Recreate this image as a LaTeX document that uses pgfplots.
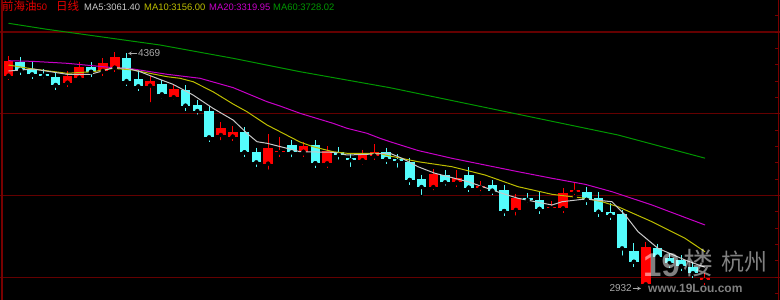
\documentclass[border=0pt]{standalone}
\usepackage{pgfplots}
\usepackage{pgfplotstable}
\pgfplotsset{compat=1.18}
\usepackage{fontspec}
\setmainfont{Liberation Sans}
\newfontfamily\cjk{Noto Sans CJK SC}
\definecolor{upred}{RGB}{255,0,0}
\definecolor{dncyan}{RGB}{84,252,252}
\definecolor{gridred}{RGB}{100,0,0}
\definecolor{edgered}{RGB}{120,0,0}
\definecolor{ma5c}{RGB}{200,200,200}
\definecolor{ma10c}{RGB}{190,190,0}
\definecolor{ma20c}{RGB}{200,0,200}
\definecolor{ma60c}{RGB}{0,150,0}
\definecolor{hdrred}{RGB}{230,0,0}
\definecolor{anngray}{RGB}{170,170,170}
% up (red) candles: index open high low close
\pgfplotstableread{
i O H L C
0 4233 4341 4225 4325
5 4190 4241 4188 4231
6 4221 4303 4207 4286
8 4262 4331 4257 4309
9 4282 4364 4280 4347
12 4172 4207 4058 4202
14 4101 4159 4074 4150
18 3870 3948 3826 3915
19 3860 3927 3860 3887
22 3695 3874 3646 3793
23 3764 3858 3764 3772
25 3768 3817 3758 3801
27 3697 3789 3690 3772
30 3716 3756 3703 3752
31 3744 3813 3740 3764
36 3552 3642 3520 3630
38 3581 3656 3575 3609
40 3548 3585 3514 3560
43 3412 3499 3365 3483
46 3422 3467 3405 3432
47 3422 3520 3418 3514
48 3522 3581 3491 3532
54 2957 3202 2932 3187
59 2982 3000 2978 2998
}\uptable
% down (cyan) candles: index open high low close
\pgfplotstableread{
i O H L C
1 4318 4335 4265 4268
2 4272 4315 4237 4241
3 4245 4255 4205 4233
4 4227 4241 4173 4176
7 4286 4315 4254 4257
10 4343 4369 4192 4200
11 4211 4268 4164 4168
13 4180 4207 4104 4119
15 4145 4156 4049 4049
16 4054 4070 3982 4017
17 4017 4023 3850 3856
20 3887 3921 3764 3764
21 3764 3768 3662 3703
24 3809 3809 3723 3764
26 3809 3826 3697 3697
28 3768 3772 3707 3748
29 3731 3752 3662 3716
32 3764 3770 3718 3723
33 3723 3731 3658 3711
34 3703 3711 3595 3595
35 3599 3609 3491 3552
37 3626 3642 3548 3581
39 3626 3673 3548 3548
41 3564 3585 3525 3530
42 3534 3544 3405 3405
44 3487 3492 3446 3473
45 3473 3520 3418 3418
49 3523 3548 3473 3473
50 3487 3523 3400 3401
51 3398 3453 3379 3379
52 3385 3390 3120 3177
53 3161 3208 3094 3095
55 3177 3180 3110 3126
56 3116 3147 3080 3086
57 3106 3136 3065 3069
58 3065 3086 3020 3025
}\dntable
\begin{document}
\begin{tikzpicture}
\begin{axis}[
  scale only axis, width=780pt, height=300pt,
  xmin=-0.72, xmax=65.38, ymin=2861.2, ymax=4695.7,
  axis background/.style={fill=black},
  axis line style={draw=none},
  xtick=\empty, ytick={3000,3500,4000,4500},
  yticklabels={}, major tick length=0pt,
  ymajorgrids, grid style={gridred, line width=1.1pt},
]
% wicks
\addplot[only marks, mark=none, error bars/.cd, y dir=plus, y explicit, error mark=none,
  error bar style={upred, line width=1pt}]
  table[x=i, y=L, y error plus expr=\thisrow{H}-\thisrow{L}] {\uptable};
\addplot[only marks, mark=none, error bars/.cd, y dir=plus, y explicit, error mark=none,
  error bar style={dncyan, line width=1pt}]
  table[x=i, y=L, y error plus expr=\thisrow{H}-\thisrow{L}] {\dntable};
% bodies
\addplot[only marks, mark=none, error bars/.cd, y dir=both, y explicit, error mark=-,
  error bar style={upred, line width=9.6pt}, error mark options={upred, line width=1pt, mark size=4.8pt}]
  table[x=i, y=O, y error plus expr=\thisrow{C}-\thisrow{O}, y error minus expr=0] {\uptable};
\addplot[only marks, mark=none, error bars/.cd, y dir=both, y explicit, error mark=-,
  error bar style={dncyan, line width=9.6pt}, error mark options={dncyan, line width=1pt, mark size=4.8pt}]
  table[x=i, y=C, y error plus expr=\thisrow{O}-\thisrow{C}, y error minus expr=0] {\dntable};
% MA60
\addplot[ma60c, line width=1pt, no marks] coordinates {(0,4553.2)(3.26,4516.5)(12.84,4420.5)(19.03,4339.2)(24.70,4257.3)(32.33,4159.4)(41.65,4020.0)(51.65,3870.2)(59.03,3728.3)};
% MA20
\addplot[ma20c, line width=1pt, no marks] coordinates {(0,4324.5)(2.08,4320.4)(4.96,4308.6)(8.86,4282.0)(10.55,4273.8)(13.43,4241.4)(16.23,4216.9)(19.03,4160.0)(21.91,4073.8)(23.01,4047.5)(24.70,4002.9)(27.50,3941.7)(28.69,3911.2)(30.38,3880.6)(31.48,3850.0)(32.33,3829.2)(34.70,3775.4)(37.58,3727.7)(40.38,3686.7)(43.18,3645.8)(46.06,3605.4)(48.86,3568.7)(51.14,3523.4)(54.53,3442.1)(59.03,3319.8)};
% MA10
\addplot[ma10c, line width=1pt, no marks] coordinates {(0,4298.2)(2.08,4273.8)(4.96,4247.5)(7.16,4257.3)(8.86,4278.0)(10.55,4267.6)(13.43,4226.7)(14.53,4216.9)(15.64,4196.1)(17.33,4134.9)(19.03,4059.7)(20.21,4012.6)(21.91,3931.3)(23.01,3890.3)(24.70,3827.4)(25.81,3798.6)(27.50,3768.1)(28.69,3758.3)(31.48,3758.3)(31.91,3747.9)(34.70,3706.9)(37.58,3676.3)(40.38,3625.6)(43.18,3554.0)(46.06,3507.5)(48.86,3483.1)(50.30,3462.3)(51.65,3431.7)(54.53,3340.0)(57.33,3238.5)(59.03,3156.0)};
% MA5
\addplot[ma5c, line width=1pt, no marks] coordinates {(0,4261.5)(2.08,4273.8)(4.96,4241.4)(6.91,4241.4)(7.75,4257.3)(8.86,4281.7)(10.04,4278.0)(11.14,4257.3)(12.58,4216.9)(13.94,4180.2)(15.64,4114.8)(17.33,4033.4)(19.03,3961.9)(20.21,3880.6)(21.06,3829.2)(21.91,3819.4)(23.60,3788.8)(24.70,3768.1)(27.50,3764.4)(28.69,3747.9)(30.38,3752.1)(32.33,3758.3)(33.35,3727.7)(34.70,3676.3)(36.14,3636.0)(38.94,3584.6)(41.82,3513.7)(43.18,3483.1)(46.06,3442.1)(46.91,3462.3)(48.86,3478.8)(51.14,3462.3)(52.25,3381.0)(53.35,3278.9)(55.04,3177.3)(57.33,3105.8)(59.03,3061.4)};
% frame lines
\draw[edgered, line width=1.5pt] (axis description cs:0.0026,0) -- (axis description cs:0.0026,1);
\draw[edgered, line width=0.8pt] (axis description cs:0.9974,0) -- (axis description cs:0.9974,1);
\coordinate (hiA) at (axis cs:10.92,4369);
\coordinate (hiB) at (axis cs:10.12,4369);
\coordinate (loA) at (axis cs:52.88,2932);
\coordinate (loB) at (axis cs:53.6,2932);
\end{axis}
\pgfresetboundingbox
\path[use as bounding box] (current axis.south west) rectangle (current axis.north east);
% right-edge price ticks every 100
\foreach \k in {0,...,17} {
  \draw[edgered, line width=0.8pt] ([shift={(775pt,{-293.6pt+16.353pt*\k})}]current axis.north west) -- ++(3pt,0);
}
% annotations
\draw[anngray, line width=0.7pt, -stealth] (hiA) -- (hiB);
\node[anngray, anchor=west, inner sep=0pt, font=\fontsize{10}{10}\selectfont] at ([xshift=0.5pt]hiA) {4369};
\node[anngray, anchor=east, inner sep=0pt, font=\fontsize{10}{10}\selectfont] at ([xshift=-0.5pt]loA) {2932};
\draw[anngray, line width=0.7pt, -stealth] (loA) -- (loB);
% watermark
\node[white, opacity=0.5, anchor=base west, inner sep=0pt, font=\bfseries\fontsize{33}{33}\selectfont] at ([shift={(643pt,-276.5pt)}]current axis.north west) {19};
\node[white, opacity=0.5, anchor=base west, inner sep=0pt, font=\cjk\fontsize{30}{30}\selectfont] at ([shift={(683pt,-274pt)}]current axis.north west) {楼};
\node[white, opacity=0.5, anchor=base west, inner sep=0pt, font=\cjk\fontsize{23}{23}\selectfont] at ([shift={(721pt,-270.5pt)}]current axis.north west) {杭州};
\node[white, opacity=0.5, anchor=base west, inner sep=0pt, font=\bfseries\fontsize{12}{12}\selectfont] at ([shift={(648pt,-292pt)}]current axis.north west) {www.19Lou.com};
% header
\node[hdrred, anchor=base west, inner sep=0pt, font=\cjk\fontsize{11.5}{12}\selectfont] at ([shift={(2pt,-11pt)}]current axis.north west) {前海油{\rmfamily\fontsize{9.4}{10}\selectfont 50}};
\node[hdrred, anchor=base west, inner sep=0pt, font=\cjk\fontsize{11.5}{12}\selectfont] at ([shift={(56pt,-11pt)}]current axis.north west) {日线};
\node[ma5c, anchor=base west, inner sep=0pt, font=\fontsize{9.4}{10}\selectfont] at ([shift={(84pt,-11pt)}]current axis.north west) {MA5:3061.40};
\node[ma10c, anchor=base west, inner sep=0pt, font=\fontsize{9.4}{10}\selectfont] at ([shift={(144pt,-11pt)}]current axis.north west) {MA10:3156.00};
\node[ma20c, anchor=base west, inner sep=0pt, font=\fontsize{9.4}{10}\selectfont] at ([shift={(209pt,-11pt)}]current axis.north west) {MA20:3319.95};
\node[ma60c, anchor=base west, inner sep=0pt, font=\fontsize{9.4}{10}\selectfont] at ([shift={(273pt,-11pt)}]current axis.north west) {MA60:3728.02};
\end{tikzpicture}
\end{document}
